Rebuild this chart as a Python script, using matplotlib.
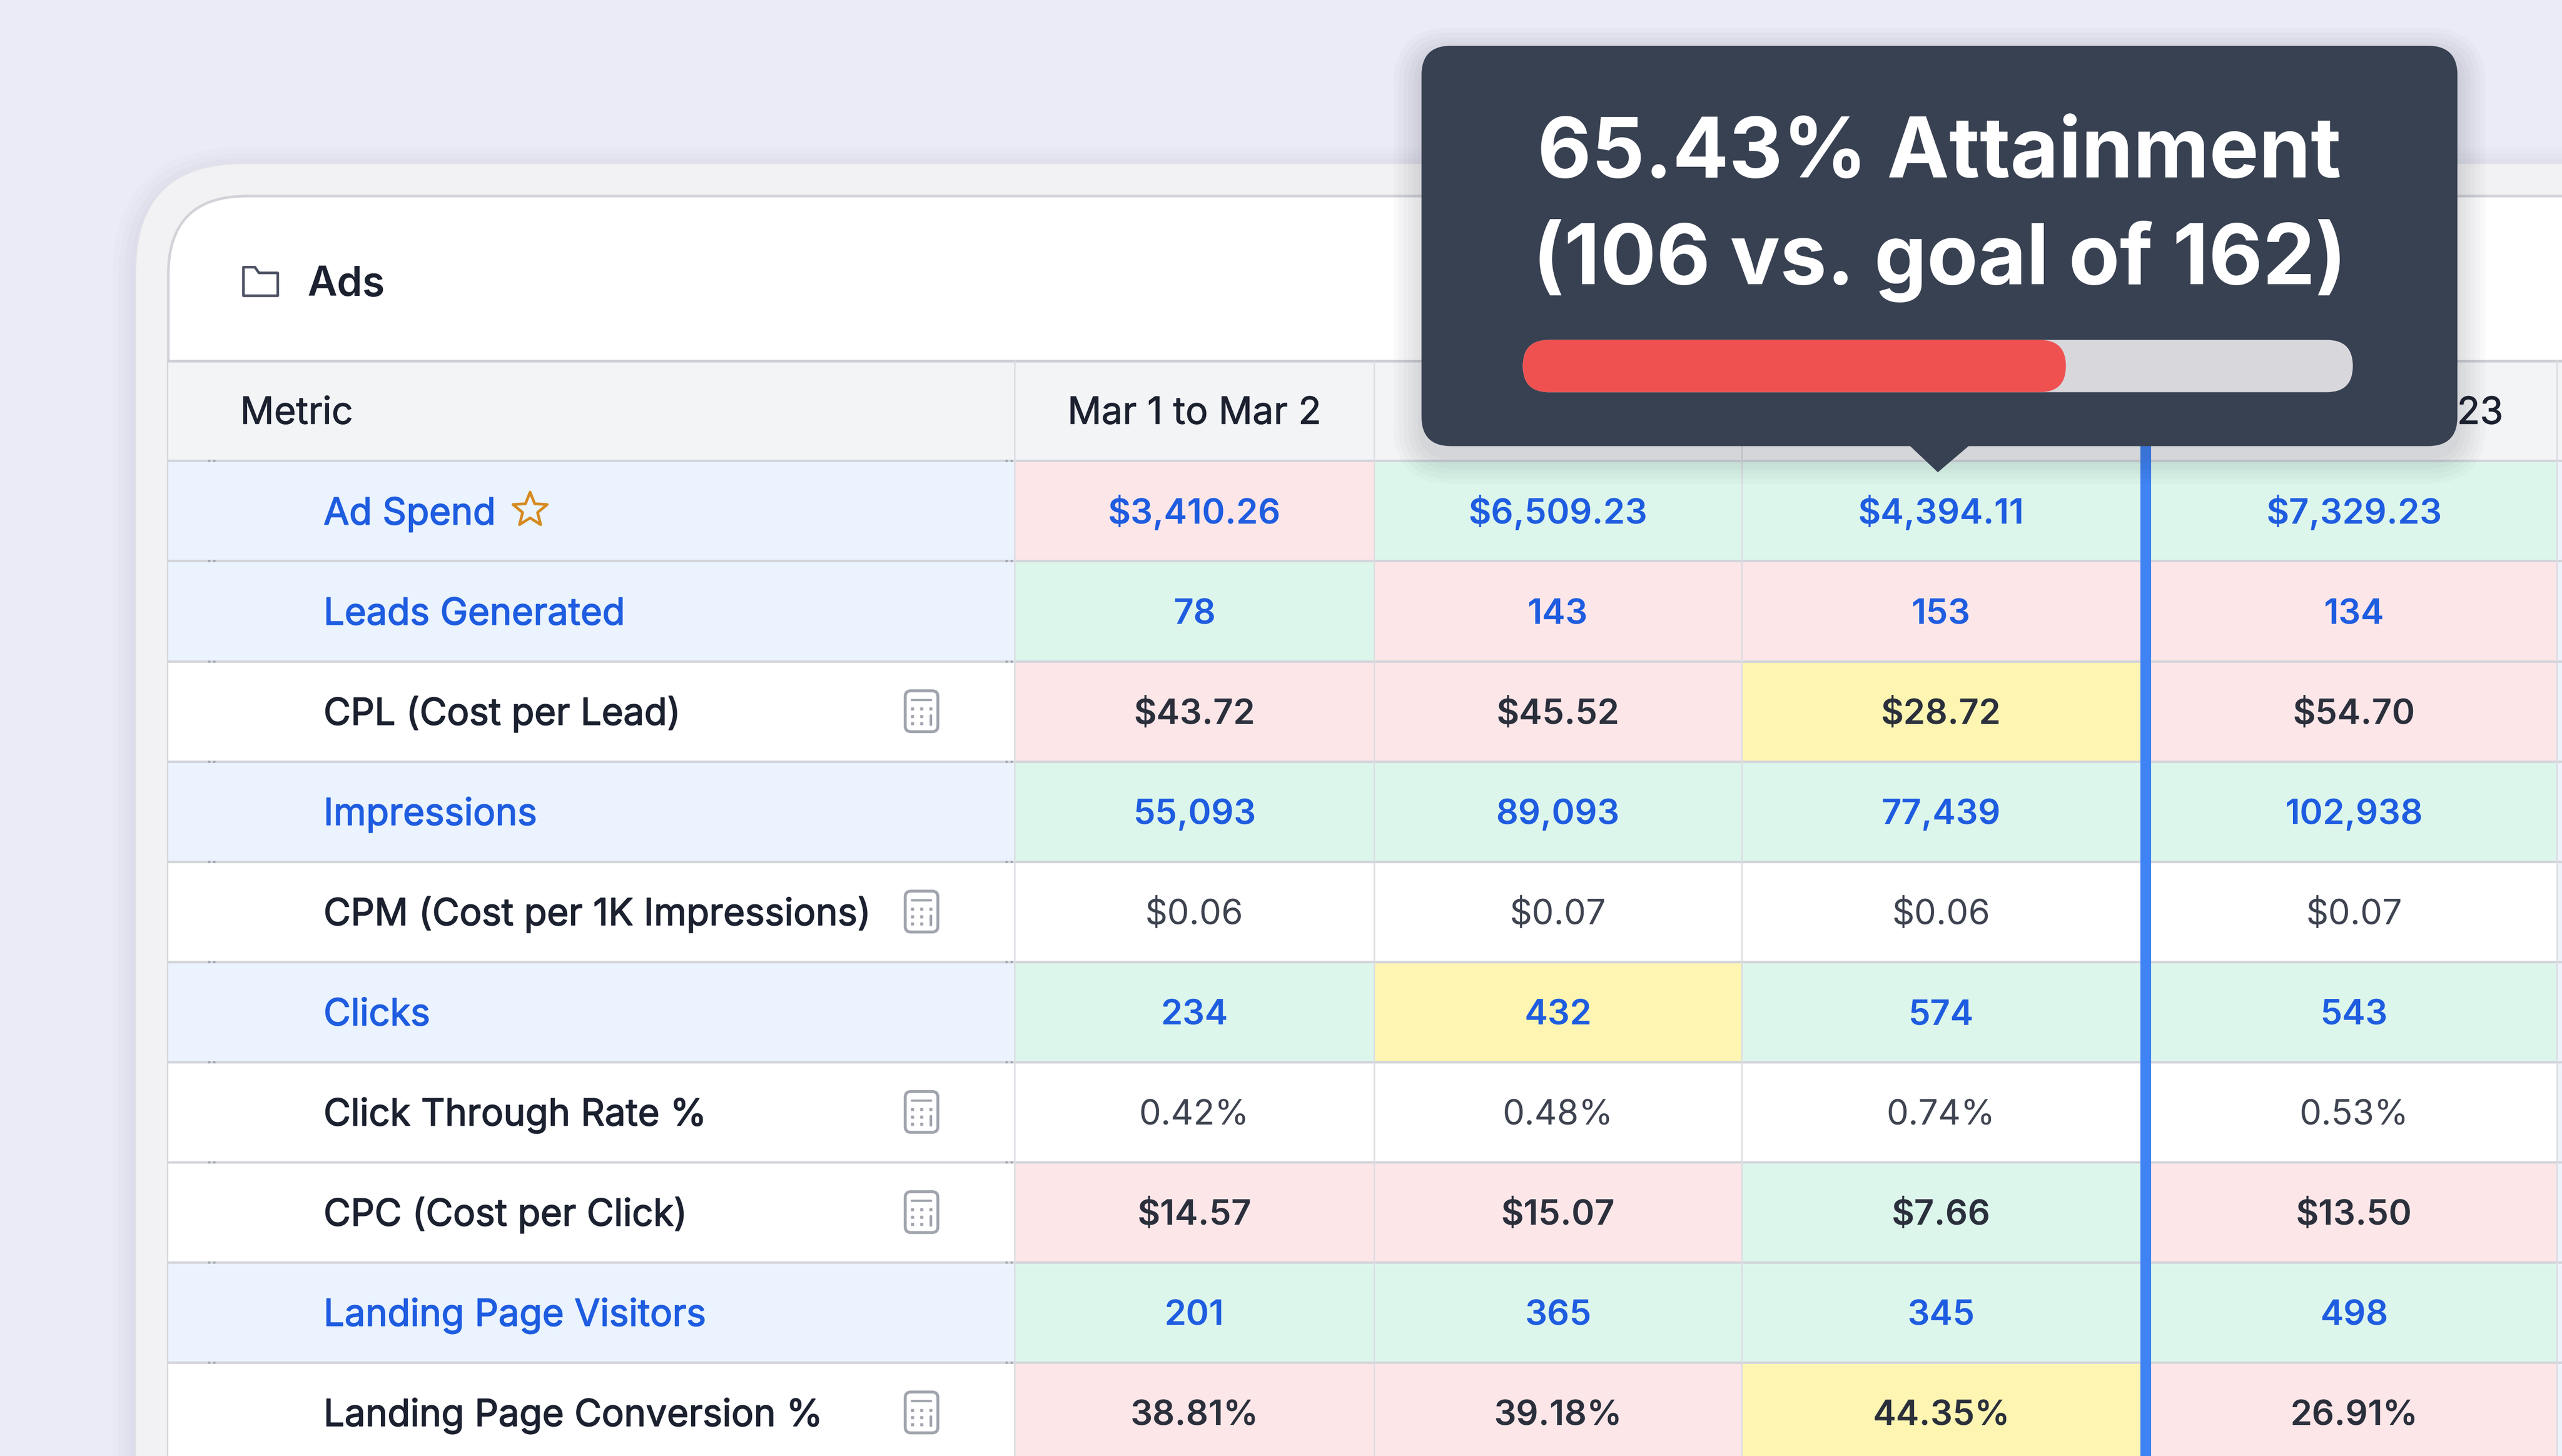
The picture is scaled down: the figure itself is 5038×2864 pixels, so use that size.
import matplotlib.pyplot as plt
import matplotlib.patheffects as pe
from matplotlib.patches import FancyBboxPatch, Rectangle, Polygon
import numpy as np

plt.rcParams['font.family'] = ['Inter', 'DejaVu Sans']

# ---- data ----
section = 'Ads'
metric_header = 'Metric'
periods = ['Mar 1 to Mar 2', 'Mar 3 to Mar 9', 'Mar 10 to Mar 16', 'Mar 17 to Mar 23']
metrics = ['Ad Spend', 'Leads Generated', 'CPL (Cost per Lead)', 'Impressions',
           'CPM (Cost per 1K Impressions)', 'Clicks', 'Click Through Rate %',
           'CPC (Cost per Click)', 'Landing Page Visitors', 'Landing Page Conversion %']
# input metrics (blue) vs calculated metrics (calculator icon)
is_input = [True, True, False, True, False, True, False, False, True, False]
starred = [True, False, False, False, False, False, False, False, False, False]
values = [
    ['$3,410.26', '$6,509.23', '$4,394.11', '$7,329.23'],
    ['78', '143', '153', '134'],
    ['$43.72', '$45.52', '$28.72', '$54.70'],
    ['55,093', '89,093', '77,439', '102,938'],
    ['$0.06', '$0.07', '$0.06', '$0.07'],
    ['234', '432', '574', '543'],
    ['0.42%', '0.48%', '0.74%', '0.53%'],
    ['$14.57', '$15.07', '$7.66', '$13.50'],
    ['201', '365', '345', '498'],
    ['38.81%', '39.18%', '44.35%', '26.91%'],
]
# goal status per cell: r = below goal, g = on goal, y = close, '' = no goal
status = [
    ['r', 'g', 'g', 'g'],
    ['g', 'r', 'r', 'r'],
    ['r', 'r', 'y', 'r'],
    ['g', 'g', 'g', 'g'],
    ['', '', '', ''],
    ['g', 'y', 'g', 'g'],
    ['', '', '', ''],
    ['r', 'r', 'g', 'r'],
    ['g', 'g', 'g', 'g'],
    ['r', 'r', 'y', 'r'],
]
actual = 106
goal = 162

# ---- layout (units = 1/1568 of the width) ----
W, H = 1568, 891
PT = (5038 / W) * 72 / 100   # points per unit

status_colors = {'r': '#FCE6E8', 'g': '#DDF6EC', 'y': '#FEF5B2', '': 'white'}
blue_text = '#1E5CE0'
dark_text = '#1C2130'
grid_col = '#D3D5DB'

table_left = 103
label_right = 621
col_left = [621, 841, 1066, 1316.5]
col_right = [841, 1066, 1310, 1565]
header_top, header_bot = 221, 282
row_h = 61.3
label_em = 22.8
head_em = 23
val_em = 21.4

fig = plt.figure(figsize=(50.38, 28.64), dpi=100)
fig.patch.set_facecolor('#EBEBF7')
ax = fig.add_axes([0, 0, 1, 1])
ax.set_xlim(0, W)
ax.set_ylim(H, 0)
ax.axis('off')


def fs(u):
    return u * PT


def rbox(x, y, w, h, r, **kw):
    p = FancyBboxPatch((x, y), w, h, boxstyle=f'round,pad=0,rounding_size={r}', **kw)
    ax.add_patch(p)
    return p


def base(yc, em):
    # baseline so that capitals sit centred on yc
    return yc + 0.727 * em / 2


def medium(color, w=0.55):
    # thicken regular glyphs a little to look like a medium weight
    return [pe.withStroke(linewidth=fs(w), foreground=color)]


# outer frame + shadow
for k, a in enumerate([0.025, 0.025, 0.03, 0.035]):
    g = 14 - k * 3.5
    rbox(83 - g, 100 - g + 4, 2000, 1200, 66 + g, fc='#7A7A99', ec='none', alpha=a, zorder=1)
rbox(83, 100, 2000, 1200, 66, fc='#F2F2F5', ec='#E2E2E8', lw=fs(0.8), zorder=2)
rbox(103, 120, 2000, 1200, 48, fc='white', ec='#D2D3D9', lw=fs(1.6), zorder=3)

# section title with folder icon
folder = [(149, 163.5), (156, 163.5), (158.5, 167), (170, 167), (170, 181), (149, 181)]
ax.add_patch(Polygon(folder, closed=True, fc='none', ec='#4B5162', lw=fs(1.6),
                     joinstyle='round', zorder=6))
ax.text(188, base(172, 25), section, fontsize=fs(25), fontweight='semibold',
        color=dark_text, va='baseline', ha='left', zorder=6)

# header row
ax.add_patch(Rectangle((table_left, header_top), W - table_left, header_bot - header_top,
                       fc='#F3F4F6', ec='none', zorder=4))
ax.text(147, base(251, head_em), metric_header, fontsize=fs(head_em), color=dark_text,
        va='baseline', ha='left', zorder=6, path_effects=medium(dark_text, 0.35))
for j, p in enumerate(periods):
    ax.text((col_left[j] + col_right[j]) / 2, base(251, head_em), p, fontsize=fs(head_em),
            color=dark_text, va='baseline', ha='center', zorder=6,
            path_effects=medium(dark_text, 0.35))

renderer = fig.canvas.get_renderer()

for i, m in enumerate(metrics):
    y0 = header_bot + i * row_h
    yc = y0 + row_h / 2
    ax.add_patch(Rectangle((table_left, y0), label_right - table_left, row_h,
                           fc='#EAF3FE' if is_input[i] else 'white', ec='none', zorder=4))
    lc = blue_text if is_input[i] else dark_text
    t = ax.text(198, base(yc, label_em), m, fontsize=fs(label_em), color=lc,
                va='baseline', ha='left', zorder=6, path_effects=medium(lc))
    if starred[i]:
        bb = t.get_window_extent(renderer=renderer)
        xr = ax.transData.inverted().transform((bb.x1, bb.y0))[0]
        sx, sy = xr + 21, yc - 0.5
        ang = np.pi / 2 + np.arange(10) * np.pi / 5
        rad = np.where(np.arange(10) % 2 == 0, 11, 4.8)
        pts = np.column_stack([sx + rad * np.cos(ang), sy - rad * np.sin(ang)])
        ax.add_patch(Polygon(pts, closed=True, fc='none', ec='#D68A1F', lw=fs(1.7),
                             joinstyle='round', zorder=6))
    if not is_input[i]:
        # calculator icon
        cx = 564
        rbox(cx - 10, yc - 12.5, 20, 25, 3.5, fc='white', ec='#A0A4AD', lw=fs(1.8), zorder=6)
        ax.plot([cx - 6, cx + 6], [yc - 7, yc - 7], color='#A0A4AD', lw=fs(1.4),
                solid_capstyle='round', zorder=7)
        for dy in (-1.5, 3, 7.5):
            for dx in (-5.5, 0):
                ax.plot(cx + dx, yc + dy, 's', ms=fs(1.6), color='#A0A4AD', mec='none', zorder=7)
        ax.plot(cx + 5.5, yc - 1.5, 's', ms=fs(1.6), color='#A0A4AD', mec='none', zorder=7)
        ax.plot([cx + 5.5, cx + 5.5], [yc + 2.5, yc + 8], color='#A0A4AD', lw=fs(1.6),
                solid_capstyle='round', zorder=7)

    for j, v in enumerate(values[i]):
        s = status[i][j]
        ax.add_patch(Rectangle((col_left[j], y0), col_right[j] - col_left[j], row_h,
                               fc=status_colors[s], ec='none', zorder=4))
        if is_input[i]:
            c, wgt = blue_text, 'semibold'
        elif s:
            c, wgt = '#2A2F3B', 'semibold'
        else:
            c, wgt = '#3E4350', 'normal'
        ax.text((col_left[j] + col_right[j]) / 2, base(yc, val_em), v, fontsize=fs(val_em),
                color=c, fontweight=wgt, va='baseline', ha='center', zorder=6)

table_bot = header_bot + len(metrics) * row_h + 40
# partial next column on the right edge
ax.add_patch(Rectangle((1565, header_bot), 10, table_bot - header_bot, fc='#EEF3FB',
                       ec='none', zorder=4))

# grid lines
ax.plot([table_left, W], [header_top, header_top], color='#CFD0D6', lw=fs(1.6), zorder=5)
for i in range(len(metrics) + 1):
    y = header_bot + i * row_h
    ax.plot([table_left, W], [y, y], color=grid_col, lw=fs(1.5), zorder=5)
    for x in (128, 131, 616, 619):
        ax.plot(x, y, 's', ms=fs(1.2), color='#9A9EA8', mec='none', zorder=5)
for x in (label_right, 841, 1066, 1565):
    ax.plot([x, x], [header_top, table_bot], color='#DCDDE2', lw=fs(0.9), zorder=5)

# highlighted column marker
ax.add_patch(Rectangle((1310, header_top), 6.5, table_bot - header_top, fc='#3F83F4',
                       ec='none', zorder=7))

# ---- tooltip ----
tx0, ty0, tw, th = 870, 28, 634, 245
for k in range(6):
    g = 2 + k * 3
    rbox(tx0 - g, ty0 + 6 - g, tw + 2 * g, th + 2 * g, 18 + g, fc='#202433',
         ec='none', alpha=0.025, zorder=8)
rbox(tx0, ty0, tw, th, 18, fc='#384152', ec='none', zorder=9)
tcx = tx0 + tw / 2
ax.add_patch(Polygon([(tcx - 19, ty0 + th - 1), (tcx + 19, ty0 + th - 1), (tcx - 1, ty0 + th + 16)],
                     closed=True, fc='#384152', ec='none', zorder=9))

pct = actual / goal
ax.text(tcx, 108.5, f'{pct * 100:.2f}% Attainment', fontsize=fs(51), color='white',
        fontweight='bold', ha='center', va='baseline', zorder=10)
ax.text(tcx, 174, f'({actual} vs. goal of {goal})', fontsize=fs(51), color='white',
        fontweight='bold', ha='center', va='baseline', zorder=10)

bx0, by0, bw, bh = 932, 208, 508, 32
rbox(bx0, by0, bw, bh, bh / 2, fc='#D8D8DC', ec='none', zorder=10)
rbox(bx0, by0, bw * pct, bh, bh / 2, fc='#EF5151', ec='none', zorder=11)

fig.savefig('out.png', dpi=100, facecolor=fig.get_facecolor())
